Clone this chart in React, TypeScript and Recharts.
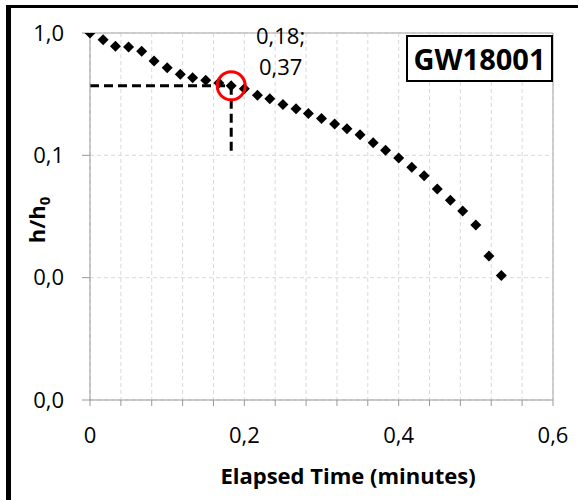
import React from 'react';
import {
  ScatterChart,
  Scatter,
  XAxis,
  YAxis,
  CartesianGrid,
  ReferenceLine,
  ReferenceDot,
  Label
} from 'recharts';

// elapsed time (minutes), one reading per second
const elapsed = [
  0, 0.017, 0.033, 0.05, 0.067, 0.083, 0.1, 0.117, 0.133, 0.15, 0.167,
  0.183, 0.2, 0.217, 0.233, 0.25, 0.267, 0.283, 0.3, 0.317, 0.333, 0.35,
  0.367, 0.383, 0.4, 0.417, 0.433, 0.45, 0.467, 0.483, 0.5, 0.517, 0.533
];
// normalised head h/h0
const headRatio = [
  1.0, 0.88, 0.78, 0.77, 0.71, 0.59, 0.52, 0.46, 0.43, 0.41, 0.39,
  0.37, 0.35, 0.31, 0.29, 0.26, 0.24, 0.22, 0.2, 0.18, 0.165, 0.147,
  0.127, 0.11, 0.095, 0.08, 0.068, 0.053, 0.043, 0.035, 0.027, 0.015, 0.0104
];

const xTicks = [0, 0.04, 0.08, 0.12, 0.16, 0.2, 0.24, 0.28, 0.32, 0.36, 0.4, 0.44, 0.48, 0.52, 0.56, 0.6];
const yTicks = [0.001, 0.01, 0.1, 1];

// picked point (t = 0.18 min, h/h0 = 0.37)
const markTime = 0.183;
const markRatio = 0.37;
const markLabel = ['0,18;', '0,37'];
const wellName = 'GW18001';

const data = elapsed.map((t, i) => ({ t, r: headRatio[i] }));

const FONT = '"Open Sans", sans-serif';

const fmtX = (v: number) => {
  const k = Math.round(v * 100);
  if (k % 20 !== 0) return '';
  return k === 0 ? '0' : (k / 100).toFixed(1).replace('.', ',');
};
const fmtY = (v: number) => v.toFixed(1).replace('.', ',');

const Diamond = (props: any) => {
  const { cx, cy } = props;
  const s = 5.5;
  return (
    <polygon
      points={`${cx},${cy - s} ${cx + s},${cy} ${cx},${cy + s} ${cx - s},${cy}`}
      fill="#000"
    />
  );
};

const YTitle = () => (
  <text
    x={0}
    y={0}
    transform="translate(45,220) rotate(-90)"
    textAnchor="middle"
    fontFamily={FONT}
    fontWeight="bold"
    fontSize={22}
    fill="#000"
  >
    <tspan>h/h</tspan>
    <tspan dy={5} fontSize={15}>0</tspan>
  </text>
);

const XTitle = () => (
  <text x={348} y={484} textAnchor="middle" fontFamily={FONT} fontWeight="bold" fontSize={22} fill="#000">
    Elapsed Time (minutes)
  </text>
);

export default function App() {
  return (
    <div style={{ position: 'absolute', left: 0, top: 0, width: 578, height: 500, background: '#fff' }}>
      <ScatterChart width={578} height={500} margin={{ top: 33, right: 25, bottom: 0, left: 0 }}>
        <CartesianGrid stroke="#d9d9d9" strokeDasharray="4 3" />
        <XAxis
          type="number"
          dataKey="t"
          domain={[0, 0.6]}
          ticks={xTicks}
          interval={0}
          tickFormatter={fmtX}
          height={100}
          tickSize={6}
          tickMargin={21}
          stroke="#999"
          tick={{ fill: '#000', fontSize: 22, fontFamily: FONT }}
        >
          <Label content={<XTitle />} />
        </XAxis>
        <YAxis
          type="number"
          dataKey="r"
          scale="log"
          domain={[0.001, 1]}
          ticks={yTicks}
          interval={0}
          allowDataOverflow
          tickFormatter={fmtY}
          width={90}
          tickSize={8}
          tickMargin={18}
          stroke="#999"
          tick={{ fill: '#000', fontSize: 22, fontFamily: FONT }}
        >
          <Label content={<YTitle />} />
        </YAxis>
        <ReferenceLine y={1} stroke="#c0c0c0" strokeWidth={1.5} />
        <ReferenceLine x={0.6} stroke="#c0c0c0" strokeWidth={1.5} />
        <ReferenceLine
          segment={[{ x: 0, y: markRatio }, { x: markTime, y: markRatio }]}
          stroke="#000"
          strokeWidth={3}
          strokeDasharray="9 5"
        />
        <ReferenceLine
          segment={[{ x: markTime, y: markRatio }, { x: markTime, y: 0.1 }]}
          stroke="#000"
          strokeWidth={3}
          strokeDasharray="9 5"
        />
        <Scatter data={data} shape={<Diamond />} isAnimationActive={false} />
        <ReferenceDot x={markTime} y={markRatio} r={14} fill="none" stroke="#ff0000" strokeWidth={3} />
        <ReferenceDot x={markTime} y={markRatio} r={0} fill="none" stroke="none">
          <Label
            content={() => (
              <text fontFamily={FONT} fontSize={22} fill="#000">
                <tspan x={256} y={44}>{markLabel[0]}</tspan>
                <tspan x={259} y={75}>{markLabel[1]}</tspan>
              </text>
            )}
          />
        </ReferenceDot>
      </ScatterChart>
      {/* well name box */}
      <div
        style={{
          position: 'absolute',
          left: 406,
          top: 35,
          width: 143,
          height: 43,
          border: '2px solid #000',
          background: '#fff',
          fontFamily: FONT,
          fontWeight: 'bold',
          fontSize: 29,
          lineHeight: '43px',
          textAlign: 'center'
        }}
      >
        {wellName}
      </div>
      {/* chart frame (cropped on right and bottom) */}
      <div style={{ position: 'absolute', left: 6, top: 5, width: 5, height: 495, background: '#000' }} />
      <div style={{ position: 'absolute', left: 6, top: 5, width: 572, height: 3, background: '#000' }} />
    </div>
  );
}
